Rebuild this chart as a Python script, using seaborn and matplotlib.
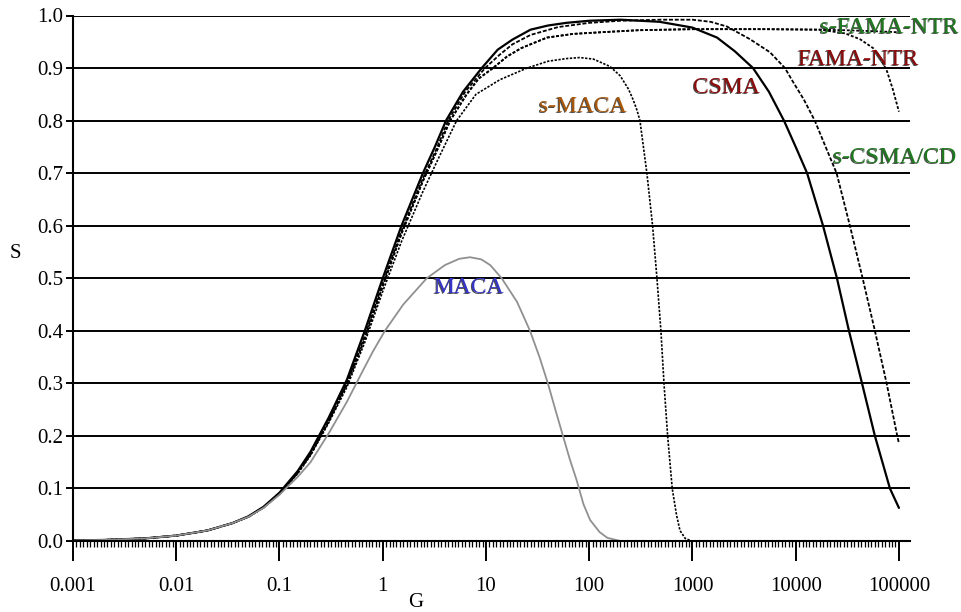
import matplotlib

matplotlib.use("Agg")
import matplotlib.pyplot as plt
import matplotlib.ticker as mticker
import matplotlib.transforms as mtransforms
import numpy as np
import pandas as pd
import seaborn as sns

# --- datos (G = carga ofrecida, S = throughput) ---
g_csma = [0.001, 0.002, 0.005, 0.01, 0.02, 0.035, 0.05, 0.07, 0.1, 0.15, 0.2, 0.3,
          0.45, 0.67, 1.0, 1.52, 2.45, 3.2, 4.1, 6.0, 9.1, 13, 18, 27, 40, 60, 100,
          200, 480, 1000, 1730, 2570, 3860, 5500, 7700, 10000, 12900, 18400, 25100,
          32800, 43900, 58500, 81800, 100000]
s_csma = [0.001, 0.002, 0.005, 0.0103, 0.02, 0.034, 0.047, 0.065, 0.092, 0.133, 0.17, 0.235,
          0.307, 0.40, 0.50, 0.60, 0.70, 0.75, 0.80, 0.855, 0.90, 0.935, 0.954, 0.973, 0.981, 0.986, 0.99,
          0.992, 0.988, 0.977, 0.958, 0.932, 0.90, 0.855, 0.80, 0.75, 0.70, 0.60, 0.50,
          0.40, 0.30, 0.20, 0.10, 0.063]

g_scsma = [0.001, 0.002, 0.005, 0.01, 0.02, 0.035, 0.05, 0.07, 0.1, 0.15, 0.2, 0.3,
           0.45, 0.67, 1.0, 1.52, 2.45, 3.3, 4.3, 6.3, 9.8, 13.5, 18, 27, 50, 100, 200,
           480, 1000, 1500, 2160, 3600, 5640, 7870, 9400, 12000, 15300, 19500, 24900,
           33500, 44500, 58500, 76000, 96300, 100000]
s_scsma = [0.001, 0.002, 0.005, 0.0103, 0.02, 0.034, 0.046, 0.064, 0.09, 0.13, 0.165, 0.228,
           0.30, 0.39, 0.49, 0.59, 0.69, 0.745, 0.80, 0.855, 0.90, 0.925, 0.945, 0.963, 0.978, 0.986, 0.99,
           0.992, 0.992, 0.988, 0.979, 0.955, 0.93, 0.90, 0.874, 0.84, 0.80, 0.75, 0.70,
           0.60, 0.50, 0.40, 0.30, 0.20, 0.186]

g_fama = [0.001, 0.002, 0.005, 0.01, 0.02, 0.035, 0.05, 0.07, 0.1, 0.15, 0.2, 0.3,
          0.45, 0.67, 1.0, 1.52, 2.45, 3.3, 4.5, 6.5, 8.5, 11.7, 16, 22, 39, 70, 127,
          300, 1000, 5000, 17200, 30000, 41900, 56200, 66000, 76600, 87100, 100000]
s_fama = [0.001, 0.002, 0.005, 0.0103, 0.02, 0.034, 0.046, 0.064, 0.09, 0.13, 0.165, 0.228,
          0.298, 0.385, 0.485, 0.585, 0.685, 0.74, 0.80, 0.85, 0.88, 0.90, 0.922, 0.938, 0.958, 0.965, 0.968,
          0.972, 0.974, 0.974, 0.973, 0.966, 0.955, 0.938, 0.92, 0.894, 0.86, 0.817]

g_sfama = [0.001, 0.002, 0.005, 0.01, 0.02, 0.035, 0.05, 0.07, 0.1, 0.15, 0.2, 0.3,
           0.45, 0.67, 1.0, 1.52, 2.45, 3.3, 4.5, 6.5, 8.5, 11.7, 16, 22, 39, 70, 127,
           300, 1000, 5000, 17200, 30000, 60000, 100000]
s_sfama = [0.001, 0.002, 0.005, 0.0103, 0.02, 0.034, 0.046, 0.064, 0.09, 0.13, 0.165, 0.228,
           0.298, 0.385, 0.485, 0.585, 0.685, 0.74, 0.80, 0.85, 0.88, 0.90, 0.922, 0.938, 0.958, 0.965, 0.968,
           0.972, 0.974, 0.974, 0.973, 0.972, 0.970, 0.968]

g_smaca = [0.001, 0.002, 0.005, 0.01, 0.02, 0.035, 0.05, 0.07, 0.1, 0.15, 0.2, 0.3,
           0.45, 0.67, 1.0, 1.52, 2.45, 3.5, 5.2, 8, 13.7, 25, 40, 60, 81, 110, 159,
           200, 240, 266, 290, 310, 362, 411, 453, 495, 530, 575, 637, 700, 757, 850, 982]
s_smaca = [0.001, 0.002, 0.005, 0.0103, 0.02, 0.034, 0.046, 0.063, 0.089, 0.128, 0.163, 0.225,
           0.293, 0.378, 0.475, 0.57, 0.665, 0.73, 0.80, 0.85, 0.878, 0.90, 0.913, 0.918, 0.92, 0.917, 0.903,
           0.885, 0.86, 0.84, 0.82, 0.80, 0.70, 0.60, 0.50, 0.40, 0.30, 0.20, 0.10, 0.05, 0.02, 0.005, 0.0]

g_maca = [0.001, 0.002, 0.005, 0.01, 0.02, 0.035, 0.05, 0.07, 0.1, 0.15, 0.2, 0.3,
          0.45, 0.6, 0.8, 1.05, 1.58, 2.67, 4.0, 5.5, 7.0, 9.0, 11, 14.2, 20, 26.7,
          33, 39.8, 47, 55.7, 65, 75.5, 88, 102, 126, 150, 200]
s_maca = [0.001, 0.002, 0.005, 0.0103, 0.02, 0.034, 0.046, 0.063, 0.088, 0.122, 0.15, 0.205,
          0.265, 0.313, 0.36, 0.40, 0.45, 0.50, 0.525, 0.537, 0.54, 0.536, 0.525, 0.50, 0.455, 0.40,
          0.35, 0.30, 0.25, 0.20, 0.155, 0.116, 0.07, 0.04, 0.017, 0.006, 0.0]

etiquetas_x = ["0.001", "0.01", "0.1", "1", "10", "100", "1000", "10000", "100000"]
valores_x = [0.001, 0.01, 0.1, 1, 10, 100, 1000, 10000, 100000]
valores_y = [0.0, 0.1, 0.2, 0.3, 0.4, 0.5, 0.6, 0.7, 0.8, 0.9, 1.0]
etiquetas_y = ["0.0", "0.1", "0.2", "0.3", "0.4", "0.5", "0.6", "0.7", "0.8", "0.9", "1.0"]
MARCAS_POR_DECADA = 30

sns.set_theme(style="white")
plt.rcParams["font.family"] = ["Liberation Serif", "DejaVu Serif"]

fig = plt.figure(figsize=(9.62, 6.12), dpi=100)
ax = fig.add_axes([73 / 962, 71 / 612, 837 / 962, 525.5 / 612])

curvas = [
    (g_csma, s_csma, "black", "-", 1.6),
    (g_scsma, s_scsma, "black", (0, (2.2, 1.0)), 1.3),
    (g_fama, s_fama, "black", (0, (1.6, 1.0)), 1.3),
    (g_sfama, s_sfama, "black", (0, (1.6, 1.0)), 1.3),
    (g_smaca, s_smaca, "black", (0, (1.4, 0.9)), 1.2),
    (g_maca, s_maca, "#909090", "-", 1.3),
]
for g, s, color, estilo, lw in curvas:
    df = pd.DataFrame({"G": g, "S": s})
    sns.lineplot(data=df, x="G", y="S", ax=ax, color=color, linestyle=estilo,
                 linewidth=lw, sort=False, estimator=None)

ax.set_xscale("log")
ax.set_xlim(0.001, 1.28e5)
ax.set_ylim(0, 1.0)

# grilla horizontal negra
ax.yaxis.set_major_locator(mticker.FixedLocator(valores_y))
ax.yaxis.set_major_formatter(mticker.FixedFormatter(etiquetas_y))
ax.yaxis.grid(True, color="black", linewidth=1.4)
ax.xaxis.grid(False)

for lado in ["top", "right"]:
    ax.spines[lado].set_visible(False)
for lado in ["left", "bottom"]:
    ax.spines[lado].set_color("black")
    ax.spines[lado].set_linewidth(1.5)

ax.xaxis.set_major_locator(mticker.FixedLocator(valores_x))
ax.xaxis.set_major_formatter(mticker.FixedFormatter(etiquetas_x))
ax.xaxis.set_minor_locator(mticker.NullLocator())
ax.tick_params(axis="x", which="major", length=0, labelsize=15, pad=26,
               labelcolor="black")
ax.tick_params(axis="y", which="major", length=0, labelsize=15, pad=7,
               labelcolor="black")

# marcas de los ejes dibujadas como segmentos fuera del area de datos
locs_todas = 10 ** np.linspace(-3, 5, 8 * MARCAS_POR_DECADA + 1)
locs_menores = [v for i, v in enumerate(locs_todas) if i % MARCAS_POR_DECADA != 0]
ax.vlines(valores_x, -20 / 525.5, 0, transform=ax.get_xaxis_transform(),
          colors="black", linewidth=1.4, clip_on=False, zorder=10)
ax.vlines(locs_menores, -5.5 / 525.5, 0, transform=ax.get_xaxis_transform(),
          colors="black", linewidth=0.9, clip_on=False, zorder=10)
ax.hlines(valores_y, -7 / 837, 0, transform=ax.get_yaxis_transform(),
          colors="black", linewidth=1.4, clip_on=False, zorder=10)

ax.set_xlabel("G", fontsize=15, color="black")
ax.xaxis.set_label_coords(0.409, -0.117)
ax.xaxis.label.set_va("center")
ax.set_ylabel("S", fontsize=15, color="black", rotation=0)
ax.yaxis.set_label_coords(-0.069, 0.548)
ax.yaxis.label.set_va("center")

# etiquetas de cada curva, con una copia oscura desplazada detras como sombra
trans_sombra = mtransforms.offset_copy(ax.transData, fig=fig, x=-0.7, y=-0.5,
                                       units="points")
textos = [
    ("s-FAMA-NTR", 17200, 0.977, "#1f7a1f"),
    ("FAMA-NTR", 10300, 0.916, "#8b0a0a"),
    ("CSMA", 1010, 0.863, "#8b0a0a"),
    ("s-MACA", 32.6, 0.827, "#a8580a"),
    ("s-CSMA/CD", 23000, 0.730, "#1f7a1f"),
    ("MACA", 3.07, 0.482, "#3535c8"),
]
for txt, x, y, color in textos:
    ax.text(x, y, txt, color="#202020", alpha=0.8, fontsize=17, ha="left",
            va="center", transform=trans_sombra, zorder=4)
    ax.text(x, y, txt, color=color, fontsize=17, ha="left", va="center", zorder=5)

fig.savefig("out.png", dpi=100)
